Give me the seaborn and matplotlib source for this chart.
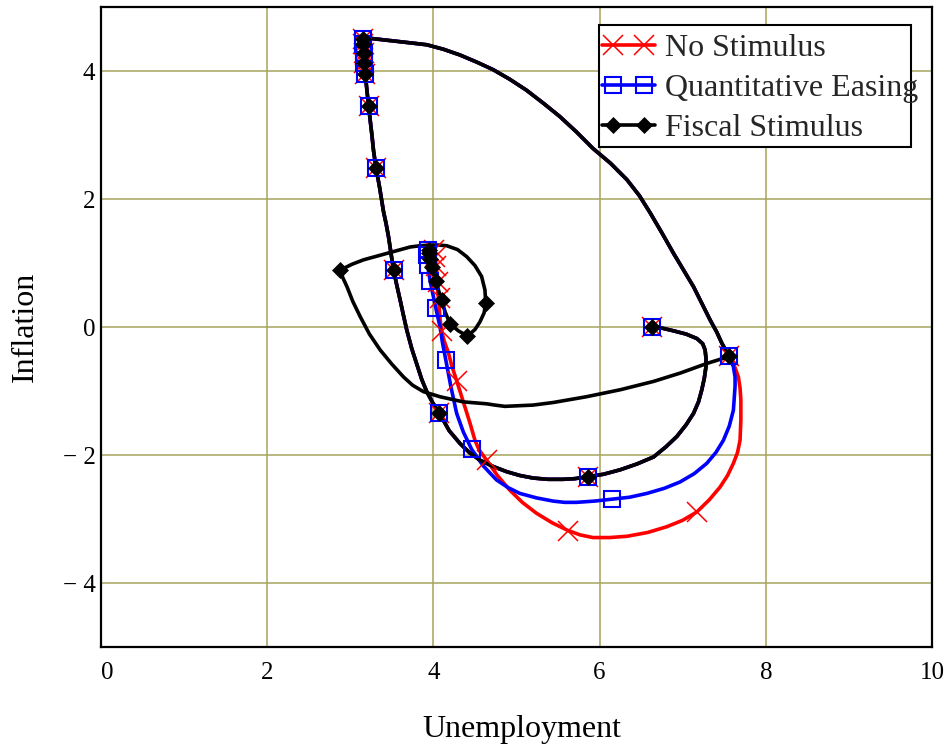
import numpy as np
import pandas as pd
import matplotlib
matplotlib.use("Agg")
import matplotlib.pyplot as plt
import matplotlib.transforms as mtransforms
import seaborn as sns
from matplotlib.lines import Line2D
from matplotlib.legend_handler import HandlerLine2D
from matplotlib.patches import Rectangle

sns.set_theme(style="white")
plt.rcParams["font.family"] = ["Liberation Serif", "DejaVu Serif"]

# Shared history of the economy (identical for every policy scenario)
common_u = [6.63, 6.76, 6.89, 7.04, 7.17, 7.24, 7.27, 7.28, 7.28, 7.26,
            7.23, 7.19, 7.13, 7.04, 6.93, 6.80, 6.65, 6.45, 6.25, 6.05,
            5.86, 5.70, 5.56, 5.38, 5.20, 5.04, 4.88, 4.72, 4.56, 4.44,
            4.32, 4.19, 4.07, 3.99, 3.92, 3.86, 3.81, 3.74, 3.68, 3.64,
            3.60, 3.56, 3.52, 3.49, 3.46, 3.43, 3.40, 3.35, 3.31, 3.28,
            3.26, 3.24, 3.22, 3.20, 3.18, 3.16, 3.15, 3.17, 3.24, 3.38,
            3.52, 3.72, 3.92, 4.12, 4.32, 4.52, 4.72, 4.92, 5.12, 5.32,
            5.52, 5.72, 5.92, 6.13, 6.33, 6.48, 6.61, 6.75, 6.89, 7.01,
            7.13, 7.23, 7.33, 7.41, 7.47, 7.52, 7.56]
common_pi = [0.00, -0.02, -0.06, -0.11, -0.18, -0.26, -0.36, -0.49, -0.62, -0.80,
             -0.98, -1.17, -1.35, -1.53, -1.71, -1.87, -2.03, -2.14, -2.23, -2.30,
             -2.34, -2.37, -2.38, -2.38, -2.36, -2.32, -2.26, -2.18, -2.08, -1.97,
             -1.82, -1.62, -1.34, -1.18, -1.01, -0.82, -0.62, -0.34, -0.05, 0.18,
             0.42, 0.65, 0.89, 1.15, 1.41, 1.62, 1.80, 2.20, 2.48, 2.75,
             3.00, 3.22, 3.45, 3.70, 3.95, 4.25, 4.50, 4.51, 4.51, 4.49,
             4.47, 4.44, 4.41, 4.34, 4.25, 4.14, 4.02, 3.87, 3.70, 3.50,
             3.29, 3.05, 2.79, 2.56, 2.30, 2.05, 1.78, 1.47, 1.15, 0.89,
             0.63, 0.37, 0.11, -0.08, -0.25, -0.37, -0.46]
common_mark_u = [6.63, 5.86, 4.07, 3.52, 3.31, 3.22, 3.18, 3.17, 3.16, 3.15, 3.15, 7.56]
common_mark_pi = [0.00, -2.34, -1.34, 0.89, 2.48, 3.45, 3.95, 4.12, 4.28, 4.42, 4.50, -0.46]

# No stimulus
nostim_u = [7.62, 7.67, 7.69, 7.70, 7.70, 7.69, 7.66, 7.61, 7.54, 7.45, 7.32, 7.17,
            7.00, 6.81, 6.58, 6.33, 6.12, 5.92, 5.77, 5.62, 5.43, 5.24, 5.07, 4.92,
            4.77, 4.64, 4.55, 4.50, 4.44, 4.36, 4.28, 4.22, 4.18, 4.13, 4.10, 4.08,
            4.07, 4.06, 4.05, 4.04, 4.02, 4.00]
nostim_pi = [-0.60, -0.78, -0.95, -1.14, -1.45, -1.77, -1.96, -2.13, -2.32, -2.50, -2.70, -2.89,
             -3.02, -3.12, -3.21, -3.27, -3.29, -3.29, -3.25, -3.18, -3.06, -2.91, -2.74, -2.55,
             -2.32, -2.08, -1.92, -1.77, -1.50, -1.17, -0.84, -0.60, -0.40, -0.22, -0.07, 0.12,
             0.30, 0.45, 0.60, 0.90, 1.10, 1.22]
nostim_mark_u = [7.17, 5.62, 4.64, 4.28, 4.10, 4.08, 4.05, 4.03, 4.02, 4.01]
nostim_mark_pi = [-2.89, -3.18, -2.08, -0.84, -0.07, 0.45, 0.70, 0.95, 1.10, 1.20]

# Quantitative easing
qe_u = [7.61, 7.63, 7.63, 7.61, 7.56, 7.49, 7.40, 7.29, 7.14, 6.97, 6.78, 6.57,
        6.36, 6.15, 5.94, 5.72, 5.58, 5.44, 5.24, 5.04, 4.90, 4.76, 4.60, 4.46,
        4.36, 4.28, 4.21, 4.15, 4.11, 4.08, 4.03, 3.96, 3.93, 3.92, 3.93]
qe_pi = [-0.62, -0.78, -0.93, -1.30, -1.55, -1.77, -1.96, -2.13, -2.29, -2.42, -2.52, -2.60,
         -2.66, -2.69, -2.72, -2.74, -2.74, -2.72, -2.67, -2.60, -2.51, -2.39, -2.17, -1.91,
         -1.64, -1.35, -0.93, -0.52, -0.25, 0.00, 0.29, 0.72, 0.97, 1.12, 1.22]
qe_mark_u = [6.15, 4.46, 4.15, 4.03, 3.96, 3.93, 3.92, 3.93]
qe_mark_pi = [-2.69, -1.91, -0.52, 0.29, 0.72, 0.97, 1.12, 1.20]

# Fiscal stimulus
fiscal_u = [7.29, 6.97, 6.65, 6.25, 5.84, 5.44, 5.20, 5.02, 4.86, 4.74, 4.64, 4.36,
            4.08, 3.88, 3.75, 3.64, 3.50, 3.36, 3.23, 3.12, 3.03, 2.96, 2.91, 2.88,
            3.02, 3.16, 3.30, 3.44, 3.58, 3.72, 3.84, 3.96, 4.06, 4.16, 4.29, 4.40,
            4.50, 4.58, 4.62, 4.63, 4.61, 4.56, 4.50, 4.41, 4.30, 4.20, 4.14, 4.10,
            4.06, 4.03, 3.98, 3.96, 3.95]
fiscal_pi = [-0.57, -0.72, -0.85, -0.98, -1.09, -1.18, -1.22, -1.23, -1.24, -1.22, -1.20, -1.17,
             -1.09, -1.01, -0.91, -0.78, -0.58, -0.36, -0.11, 0.16, 0.40, 0.63, 0.77, 0.89,
             0.98, 1.05, 1.10, 1.15, 1.20, 1.25, 1.27, 1.28, 1.28, 1.27, 1.21, 1.10,
             0.96, 0.79, 0.58, 0.38, 0.22, 0.08, -0.04, -0.14, -0.06, 0.05, 0.24, 0.42,
             0.58, 0.72, 0.93, 1.08, 1.18]
fiscal_mark_u = [2.88, 4.63, 4.41, 4.20, 4.10, 4.03, 3.98, 3.96, 3.95, 3.95]
fiscal_mark_pi = [0.89, 0.38, -0.14, 0.05, 0.42, 0.72, 0.93, 1.06, 1.15, 1.21]

labels = ["No Stimulus", "Quantitative Easing", "Fiscal Stimulus"]
x_ticks = [0, 2, 4, 6, 8, 10]
x_tick_labels = ["0", "2", "4", "6", "8", "10"]
y_ticks = [-4, -2, 0, 2, 4]
y_tick_labels = ["\u2212 4", "\u2212 2", "0", "2", "4"]

styles = [
    dict(color="#ff0000", marker="x", ms=14, mew=1.1, mfc="none", mec="#ff0000"),
    dict(color="#0000ff", marker="s", ms=11.5, mew=1.5, mfc="none", mec="#0000ff"),
    dict(color="#000000", marker="D", ms=8.5, mew=0.5, mfc="#000000", mec="#000000"),
]
tails = [(nostim_u, nostim_pi, nostim_mark_u, nostim_mark_pi),
         (qe_u, qe_pi, qe_mark_u, qe_mark_pi),
         (fiscal_u, fiscal_pi, fiscal_mark_u, fiscal_mark_pi)]
LINE_W = 2.6

fig = plt.figure(figsize=(9.5, 7.52), dpi=100)
ax = fig.add_axes([101 / 950, 105 / 752, 831 / 950, 640 / 752])

for (tu, tp, mu, mp), st, lab in zip(tails, styles, labels):
    path = pd.DataFrame({"Unemployment": common_u + tu, "Inflation": common_pi + tp})
    sns.lineplot(data=path, x="Unemployment", y="Inflation", sort=False,
                 estimator=None, color=st["color"], lw=LINE_W, ax=ax, zorder=2)
    marks = pd.DataFrame({"u": common_mark_u + mu, "pi": common_mark_pi + mp})
    ax.plot(marks["u"], marks["pi"], linestyle="none", marker=st["marker"],
            ms=st["ms"], mew=st["mew"], mfc=st["mfc"], mec=st["mec"], zorder=3)

ax.set_xlim(0, 10)
ax.set_ylim(-5, 5)
ax.set_xticks(x_ticks)
ax.set_xticklabels(x_tick_labels)
ax.set_yticks(y_ticks)
ax.set_yticklabels(y_tick_labels)
ax.tick_params(axis="both", length=0, labelsize=18, colors="black")
ax.tick_params(axis="x", pad=11)
ax.tick_params(axis="y", pad=4)
ax.grid(True, color="#a6a45c", lw=1.1)
ax.set_axisbelow(True)
for sp in ax.spines.values():
    sp.set_color("black")
    sp.set_linewidth(1.6)

# nudge the "0" label off the corner of the frame
zero_lbl = ax.get_xticklabels()[0]
zero_lbl.set_transform(zero_lbl.get_transform()
                       + mtransforms.ScaledTranslation(6 / 100, 0, fig.dpi_scale_trans))

ax.set_xlabel("Unemployment", fontsize=23, color="black")
ax.set_ylabel("Inflation", fontsize=23, color="black")
ax.xaxis.set_label_coords(0.507, -0.107)
ax.yaxis.set_label_coords(-0.0734, 0.5)


class SpanLineHandler(HandlerLine2D):
    """Legend key: full-width line with two inset markers."""

    def create_artists(self, legend, orig_handle, xdescent, ydescent,
                       width, height, fontsize, trans):
        y = (height - ydescent) / 2
        line = Line2D([-xdescent, -xdescent + width], [y, y])
        self.update_prop(line, orig_handle, legend)
        line.set_marker("None")
        inset = 0.2 * width
        pts = Line2D([-xdescent + inset, -xdescent + width - inset], [y, y])
        self.update_prop(pts, orig_handle, legend)
        pts.set_linestyle("None")
        line.set_transform(trans)
        pts.set_transform(trans)
        return [line, pts]


handles = [Line2D([], [], color=st["color"], lw=LINE_W, marker=st["marker"],
                  ms=st["ms"], mew=st["mew"], mfc=st["mfc"], mec=st["mec"])
           for st in styles]

box = Rectangle((599 / 950, (752 - 147) / 752), 312 / 950, 122 / 752,
                transform=fig.transFigure, facecolor="white", edgecolor="black",
                lw=1.5, zorder=4, clip_on=False)
ax.add_patch(box)
leg = ax.legend(handles, labels, loc="upper left",
                bbox_to_anchor=(602 / 950, (752 - 34) / 752),
                bbox_transform=fig.transFigure, frameon=False, borderpad=0,
                borderaxespad=0, handlelength=1.66, handletextpad=0.31,
                labelspacing=0.33, fontsize=23, numpoints=2,
                handler_map={Line2D: SpanLineHandler()})
leg.set_zorder(5)

fig.savefig("out.png", dpi=100)
